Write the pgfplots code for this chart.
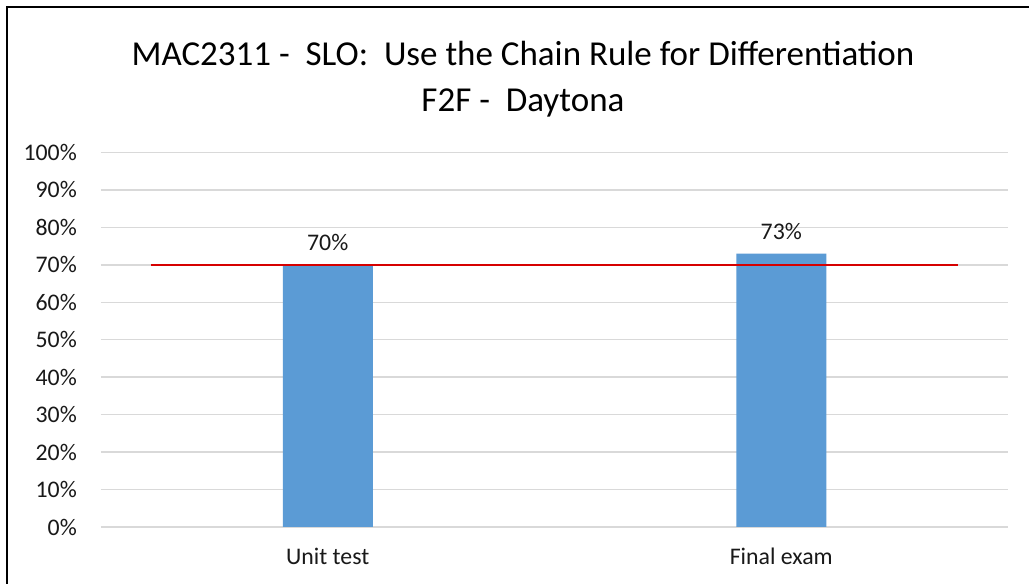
\documentclass[border=0pt]{standalone}
\usepackage{fontspec}
\setmainfont{Carlito}
\usepackage{pgfplots}
\pgfplotsset{compat=1.18}
\definecolor{barblue}{HTML}{5B9BD5}
\definecolor{gridgray}{HTML}{D9D9D9}
\definecolor{tline}{HTML}{D60000}
\begin{document}
\begin{tikzpicture}[x=1pt,y=1pt]
\useasboundingbox (0pt,0pt) rectangle (1029pt,584pt);
\fill[white] (0pt,0pt) rectangle (1029pt,584pt);
\draw[line width=2pt] (7pt,0pt) -- (7pt,576.5pt) -- (1029pt,576.5pt);
\node[anchor=base, inner sep=0pt, font=\fontsize{35}{40}\selectfont] at (523pt,518pt) {MAC2311 -\ \ SLO:\ \ Use the Chain Rule for Differentiation};
\node[anchor=base, inner sep=0pt, font=\fontsize{35}{40}\selectfont] at (523pt,472pt) {F2F -\ \ Daytona};
\begin{axis}[
  at={(101pt,57pt)}, anchor=south west,
  scale only axis, width=907pt, height=374.5pt,
  xmin=-0.5, xmax=1.5, ymin=0, ymax=100,
  xtick={0,1}, xticklabels={Unit test, Final exam},
  ytick={0,10,...,100},
  yticklabels={0\%,10\%,20\%,30\%,40\%,50\%,60\%,70\%,80\%,90\%,100\%},
  major tick length=0pt,
  axis line style={draw=none},
  ymajorgrids, grid style={gridgray, line width=1.5pt},
  ticklabel style={font=\fontsize{23.8}{28}\selectfont, text=black!90},
  yticklabel style={anchor=east, inner sep=0pt, xshift=-24pt},
  xticklabel style={anchor=base, inner sep=0pt, yshift=-38pt},
  clip=false,
]
\addplot[ybar, bar width=90pt, fill=barblue, draw=none,
  nodes near coords={\pgfmathprintnumber[assume math mode=true]{\pgfplotspointmeta}\%},
  every node near coord/.append style={anchor=base, inner sep=0pt, yshift=14pt, font=\fontsize{23.8}{28}\selectfont, text=black!90}]
  coordinates {(0,70) (1,73)};
\addplot[tline, line width=1.5pt, mark=none] coordinates {(-0.39,70) (1.39,70)};
\end{axis}
\end{tikzpicture}
\end{document}
